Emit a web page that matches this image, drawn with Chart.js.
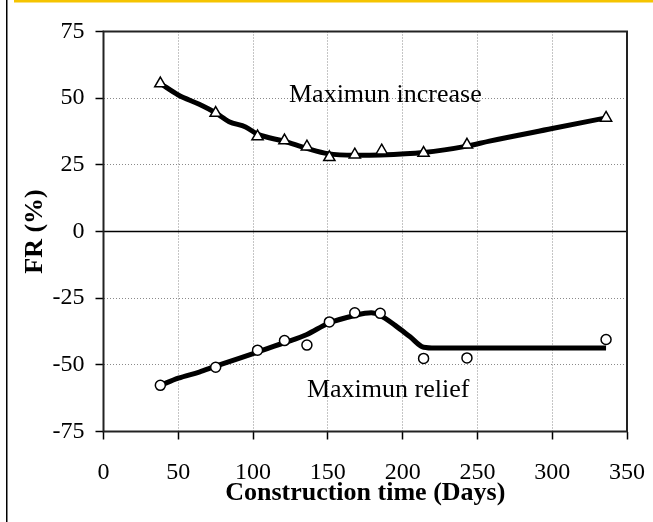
<!DOCTYPE html>
<html>
<head>
<meta charset="utf-8">
<script src="https://cdn.jsdelivr.net/npm/chart.js@4/dist/chart.umd.min.js"></script>
<style>
    body { margin: 0; background: #fff; }
    #wrap { width: 653px; height: 522px; position: relative; }
</style>
</head>
<body>
<div id="wrap"><canvas id="frChart"></canvas></div>
<script>
// Measured points - maximum increase (triangles)
const incDays = [38, 75, 103, 121, 136, 151, 168, 186, 214, 243, 336];
const incFR = [55.5, 44.4, 35.6, 34.1, 31.8, 27.8, 28.8, 30.3, 29.4, 32.5, 42.6];

// Measured points - maximum relief (circles)
const relDays = [38, 75, 103, 121, 136, 151, 168, 185, 214, 243, 336];
const relFR = [-57.7, -50.9, -44.5, -40.9, -42.6, -33.9, -30.5, -30.7, -47.6, -47.4, -40.5];

// Fitted trend lines
const incFitDays = [38, 50, 64, 75, 84, 95, 103, 121, 136, 150, 168, 185, 214, 243, 258, 300, 336];
const incFitFR = [55.5, 51.2, 47.7, 44.5, 41.2, 39.2, 36.5, 33.8, 31.2, 29.2, 28.6, 28.7, 29.6, 32, 33.9, 38.6, 42.6];
const relFitDays = [38, 50, 64, 75, 103, 121, 136, 150, 168, 179, 185, 195, 205, 214, 222, 336];
const relFitFR = [-57.7, -55, -52.7, -50.5, -45.2, -41.7, -38.6, -34.5, -31.5, -30.5, -31.5, -35.2, -39.5, -43.4, -43.7, -43.7];

// Axis ticks
const xTicks = [0, 50, 100, 150, 200, 250, 300, 350];
const yTicks = [-75, -50, -25, 0, 25, 50, 75];

const toXY = (xs, ys) => xs.map((x, i) => ({ x: x, y: ys[i] }));

Chart.defaults.font.family = '"Liberation Serif", "Times New Roman", serif';
Chart.defaults.color = '#000';

// page decorations, frame, zero line and in-plot labels
const framePlugin = {
    id: 'frame',
    beforeDraw(chart) {
        const ctx = chart.ctx;
        ctx.save();
        ctx.fillStyle = '#fff';
        ctx.fillRect(0, 0, chart.width, chart.height);
        ctx.fillStyle = '#f5c400';
        ctx.fillRect(14, 0, chart.width - 14, 2.5);
        ctx.fillStyle = '#000';
        ctx.fillRect(6, 0, 1.5, chart.height);
        ctx.restore();
    },
    afterDatasetsDraw(chart) {
        const { ctx, chartArea: a, scales: { x, y } } = chart;
        ctx.save();
        ctx.strokeStyle = '#000';
        ctx.lineWidth = 1.5;
        ctx.beginPath();
        ctx.moveTo(a.left, y.getPixelForValue(0));
        ctx.lineTo(a.right, y.getPixelForValue(0));
        ctx.stroke();
        ctx.strokeStyle = '#222';
        ctx.lineWidth = 2;
        ctx.strokeRect(a.left, a.top, a.right - a.left, a.bottom - a.top);

        ctx.fillStyle = '#000';
        ctx.font = '26px "Liberation Serif", serif';
        ctx.textBaseline = 'middle';
        ctx.textAlign = 'left';
        ctx.fillText('Maximun increase', x.getPixelForValue(124), y.getPixelForValue(51.3));
        ctx.fillText('Maximun relief', x.getPixelForValue(136), y.getPixelForValue(-59.4));
        ctx.restore();
    }
};

const gridColor = (ctx) => {
    const v = ctx.tick ? ctx.tick.value : null;
    if (v === null) return 'transparent';
    const s = ctx.scale;
    if (v === s.min || v === s.max || v === 0) return 'transparent';
    return '#8a8a8a';
};

new Chart(document.getElementById('frChart'), {
    type: 'scatter',
    data: {
        datasets: [{
            label: 'Increase points',
            data: toXY(incDays, incFR),
            pointStyle: 'triangle',
            pointRadius: 6.5,
            pointBackgroundColor: '#fff',
            pointBorderColor: '#000',
            pointBorderWidth: 1.5,
            showLine: false
        }, {
            label: 'Relief points',
            data: toXY(relDays, relFR),
            pointStyle: 'circle',
            pointRadius: 5,
            pointBackgroundColor: '#fff',
            pointBorderColor: '#000',
            pointBorderWidth: 1.5,
            showLine: false
        }, {
            label: 'Increase trend',
            data: toXY(incFitDays, incFitFR),
            showLine: true,
            pointRadius: 0,
            borderColor: '#000',
            borderWidth: 5,
            cubicInterpolationMode: 'monotone'
        }, {
            label: 'Relief trend',
            data: toXY(relFitDays, relFitFR),
            showLine: true,
            pointRadius: 0,
            borderColor: '#000',
            borderWidth: 5,
            cubicInterpolationMode: 'monotone'
        }]
    },
    options: {
        responsive: true,
        maintainAspectRatio: false,
        animation: false,
        layout: { padding: { top: 31.5, right: 26, bottom: 0, left: 0 } },
        plugins: {
            legend: { display: false },
            tooltip: { enabled: false }
        },
        scales: {
            x: {
                type: 'linear',
                min: xTicks[0],
                max: xTicks[xTicks.length - 1],
                afterBuildTicks: (scale) => { scale.ticks = xTicks.map(v => ({ value: v })); },
                afterFit: (scale) => {
                    scale.height = 90.5;
                    scale.paddingLeft = 0;
                    scale.paddingRight = 0;
                },
                ticks: { font: { size: 24 }, padding: 19, maxRotation: 0 },
                grid: { color: gridColor, lineWidth: 1, tickLength: 8, tickColor: '#000', tickWidth: 1.5, tickBorderDash: [] },
                border: { display: false, dash: [1, 2] },
                title: {
                    display: true,
                    text: 'Construction time (Days)',
                    font: { size: 26, weight: 'bold' },
                    padding: { top: 0, bottom: 13 }
                }
            },
            y: {
                type: 'linear',
                min: yTicks[0],
                max: yTicks[yTicks.length - 1],
                afterBuildTicks: (scale) => { scale.ticks = yTicks.map(v => ({ value: v })); },
                afterFit: (scale) => {
                    scale.width = 103.5;
                    scale.paddingTop = 0;
                    scale.paddingBottom = 0;
                },
                ticks: { font: { size: 24 }, padding: 11 },
                grid: { color: gridColor, lineWidth: 1, tickLength: 8, tickColor: '#000', tickWidth: 1.5, tickBorderDash: [] },
                border: { display: false, dash: [1, 2] },
                title: {
                    display: true,
                    text: 'FR (%)',
                    font: { size: 26, weight: 'bold' },
                    padding: { top: 20, bottom: 0 }
                }
            }
        }
    },
    plugins: [framePlugin]
});
</script>
</body>
</html>
